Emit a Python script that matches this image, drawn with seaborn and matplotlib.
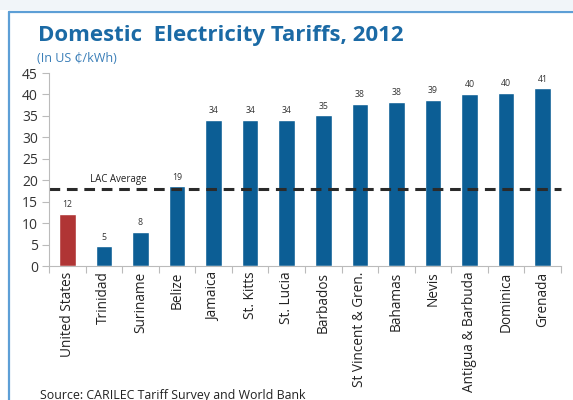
import numpy as np
import pandas as pd
import matplotlib
matplotlib.use("Agg")
import matplotlib.pyplot as plt
from matplotlib.lines import Line2D
from matplotlib.patches import Rectangle
import seaborn as sns

# Domestic electricity tariffs, 2012 (US cents per kWh)
countries = ["United States", "Trinidad", "Suriname", "Belize", "Jamaica",
             "St. Kitts", "St. Lucia", "Barbados", "St Vincent & Gren.",
             "Bahamas", "Nevis", "Antigua & Barbuda", "Dominica", "Grenada"]
tariffs = [12.2, 4.6, 7.9, 18.6, 34.0, 34.0, 34.1, 35.1, 37.8,
           38.2, 38.7, 40.2, 40.3, 41.4]
lac_average = 18.0
y_ticks = [0, 5, 10, 15, 20, 25, 30, 35, 40, 45]

BLUE = "#0c5e95"
RED = "#b03535"
TITLE_BLUE = "#1b6aa5"
FRAME_BLUE = "#5d9fd6"

sns.set_theme(style="white")
plt.rcParams["font.family"] = ["Open Sans", "DejaVu Sans"]

df = pd.DataFrame({"country": countries, "tariff": tariffs})
palette = {c: (RED if c == "United States" else BLUE) for c in countries}

fig = plt.figure(figsize=(5.73, 4.0), dpi=100)
fig.patch.set_facecolor("white")

# page strip and frame lines
fig.add_artist(Rectangle((0, 1 - 10 / 400), 1, 10 / 400, transform=fig.transFigure,
                         facecolor="#f1f5f9", edgecolor="none"))
fig.add_artist(Line2D([9 / 573, 1], [1 - 12 / 400, 1 - 12 / 400],
                      transform=fig.transFigure, color=FRAME_BLUE, lw=1.6))
fig.add_artist(Line2D([9 / 573, 9 / 573], [0, 1 - 12 / 400],
                      transform=fig.transFigure, color=FRAME_BLUE, lw=1.6))

ax = fig.add_axes([49 / 573, 1 - 266 / 400, (561 - 49) / 573, (266 - 73) / 400])
sns.barplot(data=df, x="country", y="tariff", hue="country", palette=palette,
            legend=False, width=0.45, saturation=1, ax=ax)

ax.set_ylim(0, 45)
ax.set_xlim(-0.5, len(countries) - 0.5)
ax.set_yticks(y_ticks)
ax.set_yticklabels([str(t) for t in y_ticks], fontsize=10, color="#333333")
ax.set_xticks(range(len(countries)))
ax.set_xticklabels(countries, rotation=90, fontsize=9.8, color="#222222")
ax.set_xticks(np.arange(-0.5, len(countries), 1), minor=True)
ax.tick_params(axis="x", which="major", length=0, pad=4)
ax.tick_params(axis="x", which="minor", length=5, color="#bbbbbb", width=0.8, bottom=True)
ax.tick_params(axis="y", length=5, color="#bbbbbb", width=0.8, left=True, pad=3)
ax.set_xlabel("")
ax.set_ylabel("")
for side in ["top", "right"]:
    ax.spines[side].set_visible(False)
for side in ["left", "bottom"]:
    ax.spines[side].set_color("#bbbbbb")
    ax.spines[side].set_linewidth(0.8)

# value labels
for i, v in enumerate(tariffs):
    ax.text(i, v + 1.1, f"{v:.0f}", ha="center", va="bottom", fontsize=6.3, color="#333333")

# LAC average line
ax.axhline(lac_average, color="#2a2a2a", lw=2.2, ls=(0, (3.5, 2.2)), clip_on=False)
ax.text(1.4, lac_average + 0.8, "LAC Average", ha="center", va="bottom",
        fontsize=7, color="#222222")

fig.text(38 / 573, 1 - 36 / 400, "Domestic  Electricity Tariffs, 2012",
         fontsize=16, fontweight="bold", color=TITLE_BLUE, va="center", ha="left")
fig.text(37 / 573, 1 - 58 / 400, "(In US \u20b5/kWh)", fontsize=9,
         color="#3b7fb8", va="center", ha="left")
fig.text(40 / 573, 1 - 395 / 400, "Source: CARILEC Tariff Survey and World Bank",
         fontsize=8.9, color="#222222", va="center", ha="left")

fig.savefig("out.png", dpi=100)
